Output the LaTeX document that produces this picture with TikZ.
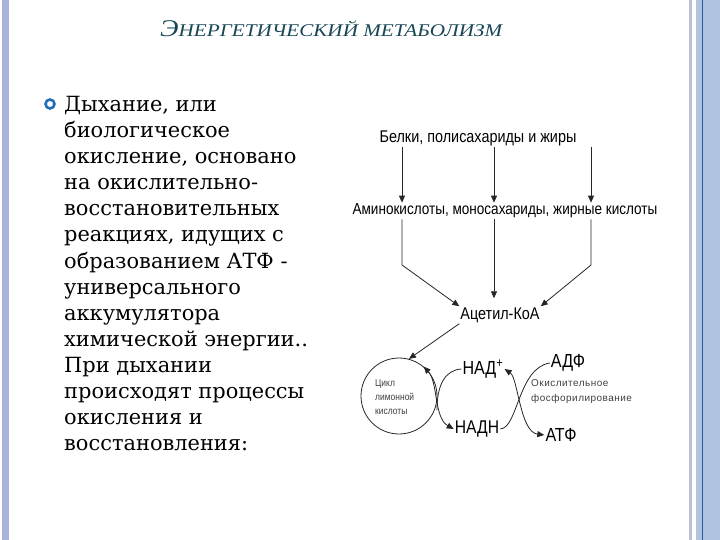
\documentclass[tikz,border=0pt]{standalone}
\usepackage{fontspec}
\setmainfont{DejaVu Serif}
\newfontfamily\titlefont[FakeStretch=1.18]{Liberation Serif}
\newfontfamily\dgfont[FakeStretch=0.85]{Liberation Sans}
\newfontfamily\oxfont[LetterSpace=5]{Liberation Sans}
\usetikzlibrary{arrows.meta}
\definecolor{titleteal}{RGB}{24,70,84}
\definecolor{barleft}{RGB}{170,180,218}
\definecolor{barright}{RGB}{176,196,226}
\definecolor{bargrey}{RGB}{185,194,206}
\definecolor{barline}{RGB}{42,90,150}
\definecolor{bulletblue}{RGB}{30,110,185}
\tikzset{
  lbl/.style={font=\dgfont\fontsize{17}{19}\selectfont, inner sep=1bp},
  small/.style={font=\dgfont\fontsize{10}{14}\selectfont, text=black!75, align=left, inner sep=0},
  flow/.style={draw=black!85, line width=.8bp, -{Triangle[length=7bp,width=6bp]}},
  link/.style={draw=black!85, line width=.8bp},
  both/.style={link, {Triangle[length=7bp,width=6bp]}-{Triangle[length=7bp,width=6bp]}},
}
\begin{document}
\begin{tikzpicture}[x=1bp,y=-1bp]
\useasboundingbox (0,0) rectangle (720,540);
% side bars
\fill[barleft] (2,0) rectangle (9,540);
\fill[bargrey] (689,0) rectangle (692,540);
\fill[barright] (696,0) rectangle (720,540);
\fill[barline] (701.5,0) rectangle (703,540);
% title
\node[font=\titlefont\itshape, text=titleteal, anchor=base west, inner sep=0] (title) at (160,37)
  {\fontsize{24}{26}\selectfont Э\fontsize{18}{20}\selectfont НЕРГЕТИЧЕСКИЙ МЕТАБОЛИЗМ};
% bullet text
\node[circle, draw=bulletblue, line width=2.6bp, minimum size=9bp, inner sep=0] (bullet) at (50,104) {};
\node[anchor=north west, align=left, inner sep=0, font=\fontsize{21}{26.2}\selectfont] (body) at (64,96)
  {Дыхание, или\\ биологическое\\ окисление, основано\\ на окислительно-\\ восстановительных\\
   реакциях, идущих с\\ образованием АТФ -\\ универсального\\ аккумулятора\\
   химической энергии..\\ При дыхании\\ происходят процессы\\ окисления и\\ восстановления:};
% scheme
\node[lbl] (src) at (478,138) {Белки, полисахариды и жиры};
\node[lbl, font=\dgfont\fontsize{16}{18}\selectfont] (mono) at (505,211) {Аминокислоты, моносахариды, жирные кислоты};
\node[lbl] (acet) at (500,315) {Ацетил-КоА};
\coordinate (k1) at (402,265); \coordinate (k2) at (494,265); \coordinate (k3) at (591,265);
\foreach \k in {k1,k2,k3} \draw[flow] (src.south -| \k) -- (mono.north -| \k);
\draw[flow] (mono.south -| k1) -- (k1) -- (acet.north west);
\draw[flow,shorten >=8bp] (mono.south -| k2) -- (acet.north -| k2);
\draw[flow] (mono.south -| k3) -- (k3) -- (acet.north east);
\node[circle, draw=black!85, line width=.8bp, minimum size=76bp] (cycle) at (399,396) {};
\node[small, anchor=west] (cyctxt) at (375,397) {Цикл\\лимонной\\кислоты};
\draw[flow] (acet.south west) -- (cycle.75);
\node[lbl, font=\dgfont\fontsize{19}{21}\selectfont] (nad) at (483,369) {НАД\textsuperscript{+}};
\node[lbl, font=\dgfont\fontsize{18.5}{21}\selectfont] (nadh) at (477,429) {НАДН};
\node[lbl, font=\dgfont\fontsize{19}{21}\selectfont] (adp) at (568,363) {АДФ};
\node[lbl, font=\dgfont\fontsize{19}{21}\selectfont] (atp) at (561,435) {АТФ};
\node[small, font=\oxfont\fontsize{10}{15}\selectfont, anchor=west] (oxph) at (531,392) {Окислительное\\фосфорилирование};
\coordinate (lmeet) at (437,410);
\draw[both] (cycle.50) .. controls (438,382) and (434,418) .. (nadh.west);
\draw[link] (nad.west) .. controls (445,370) and (437,385) .. (lmeet);
\draw[both] (nad.east) .. controls (518,378) and (520,432) .. (atp.west);
\draw[link] (nadh.east) .. controls (518,428) and (518,368) .. (adp.west);
\end{tikzpicture}
\end{document}
